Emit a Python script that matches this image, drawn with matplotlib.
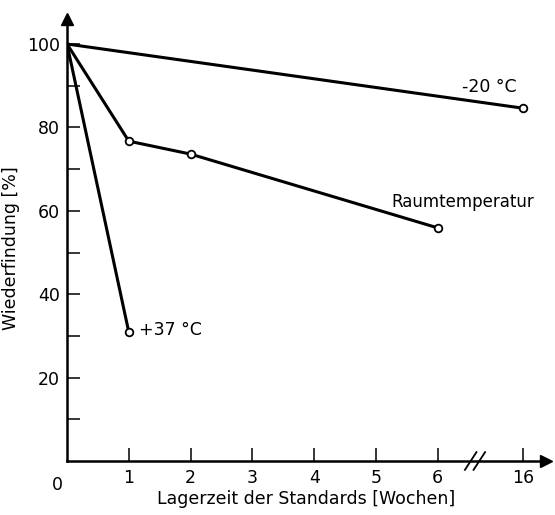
import numpy as np
import matplotlib.pyplot as plt

plt.rcParams['font.family'] = ['Liberation Sans Narrow', 'DejaVu Sans Condensed', 'DejaVu Sans']

# ----------------------------
# Data
# ----------------------------
weeks_minus20 = [0, 16]
recovery_minus20 = [100, 84.6]

weeks_room = [0, 1, 2, 6]
recovery_room = [100, 76.7, 73.6, 55.9]

weeks_plus37 = [0, 1]
recovery_plus37 = [100, 30.9]

x_ticks = [1, 2, 3, 4, 5, 6, 16]
y_major = [20, 40, 60, 80, 100]
y_minor = [10, 30, 50, 70, 90]

# broken x axis: everything past 6 weeks gets squeezed
squeeze = 0.138


def fwd(x):
    x = np.asarray(x, dtype=float)
    return np.where(x <= 6, x, 6 + (x - 6) * squeeze)


def inv(x):
    x = np.asarray(x, dtype=float)
    return np.where(x <= 6, x, 6 + (x - 6) / squeeze)


W, H = 555, 515
fig = plt.figure(figsize=(W / 100, H / 100), dpi=100)
left, right, bottom, top = 67, 546, 461, 19
px_x, px_y = 61.8, 4.17  # pixels per week / per percent
ax = fig.add_axes([left / W, 1 - bottom / H, (right - left) / W, (bottom - top) / H])
ax.set_xscale('function', functions=(fwd, inv))
ax.set_xlim(0, float(inv((right - left) / px_x)))
ax.set_ylim(0, (bottom - top) / px_y)

lw = 2.2
ms_kw = dict(marker='o', markersize=5.5, markerfacecolor='white',
             markeredgecolor='black', markeredgewidth=1.3, markevery=slice(1, None))
ax.plot(weeks_minus20, recovery_minus20, color='black', lw=lw, **ms_kw)
ax.plot(weeks_room, recovery_room, color='black', lw=lw, **ms_kw)
ax.plot(weeks_plus37, recovery_plus37, color='black', lw=lw, **ms_kw)

fs = 12.5
ax.text(15.3, 87.5, '-20 °C', fontsize=fs, ha='right', va='bottom')
ax.text(5.25, 62, 'Raumtemperatur', fontsize=12, ha='left', va='center')
ax.text(1.17, 31.5, '+37 °C', fontsize=fs, ha='left', va='center')

# axes styling
for s in ['top', 'right']:
    ax.spines[s].set_visible(False)
for s in ['left', 'bottom']:
    ax.spines[s].set_linewidth(1.8)

ax.set_xticks(x_ticks)
ax.set_xticklabels([str(t) for t in x_ticks])
ax.set_yticks(y_major)
ax.set_yticks(y_minor, minor=True)
ax.tick_params(which='both', direction='in', length=9.5, width=1.1, labelsize=fs)
ax.tick_params(axis='x', pad=6)
ax.tick_params(axis='y', pad=5)
ax.text(-10 / (right - left), -15 / (bottom - top), '0', transform=ax.transAxes,
        fontsize=fs, ha='center', va='top')

# arrow heads
ax.plot(1, 0, marker='>', color='black', markersize=9, transform=ax.transAxes, clip_on=False)
ax.plot(0, 1, marker='^', color='black', markersize=9, transform=ax.transAxes, clip_on=False)

# break marks on the x axis
bx = (475 - left) / (right - left)
for dx in (-0.009, 0.009):
    ax.plot([bx + dx - 0.012, bx + dx + 0.012], [-0.02, 0.02], color='black',
            lw=1.3, transform=ax.transAxes, clip_on=False)

ax.set_xlabel('Lagerzeit der Standards [Wochen]', fontsize=fs, labelpad=2)
ax.set_ylabel('Wiederfindung [%]', fontsize=fs)
ax.yaxis.set_label_coords(-47 / (right - left), (bottom - 248) / (bottom - top))

fig.savefig('out.png', dpi=100)
